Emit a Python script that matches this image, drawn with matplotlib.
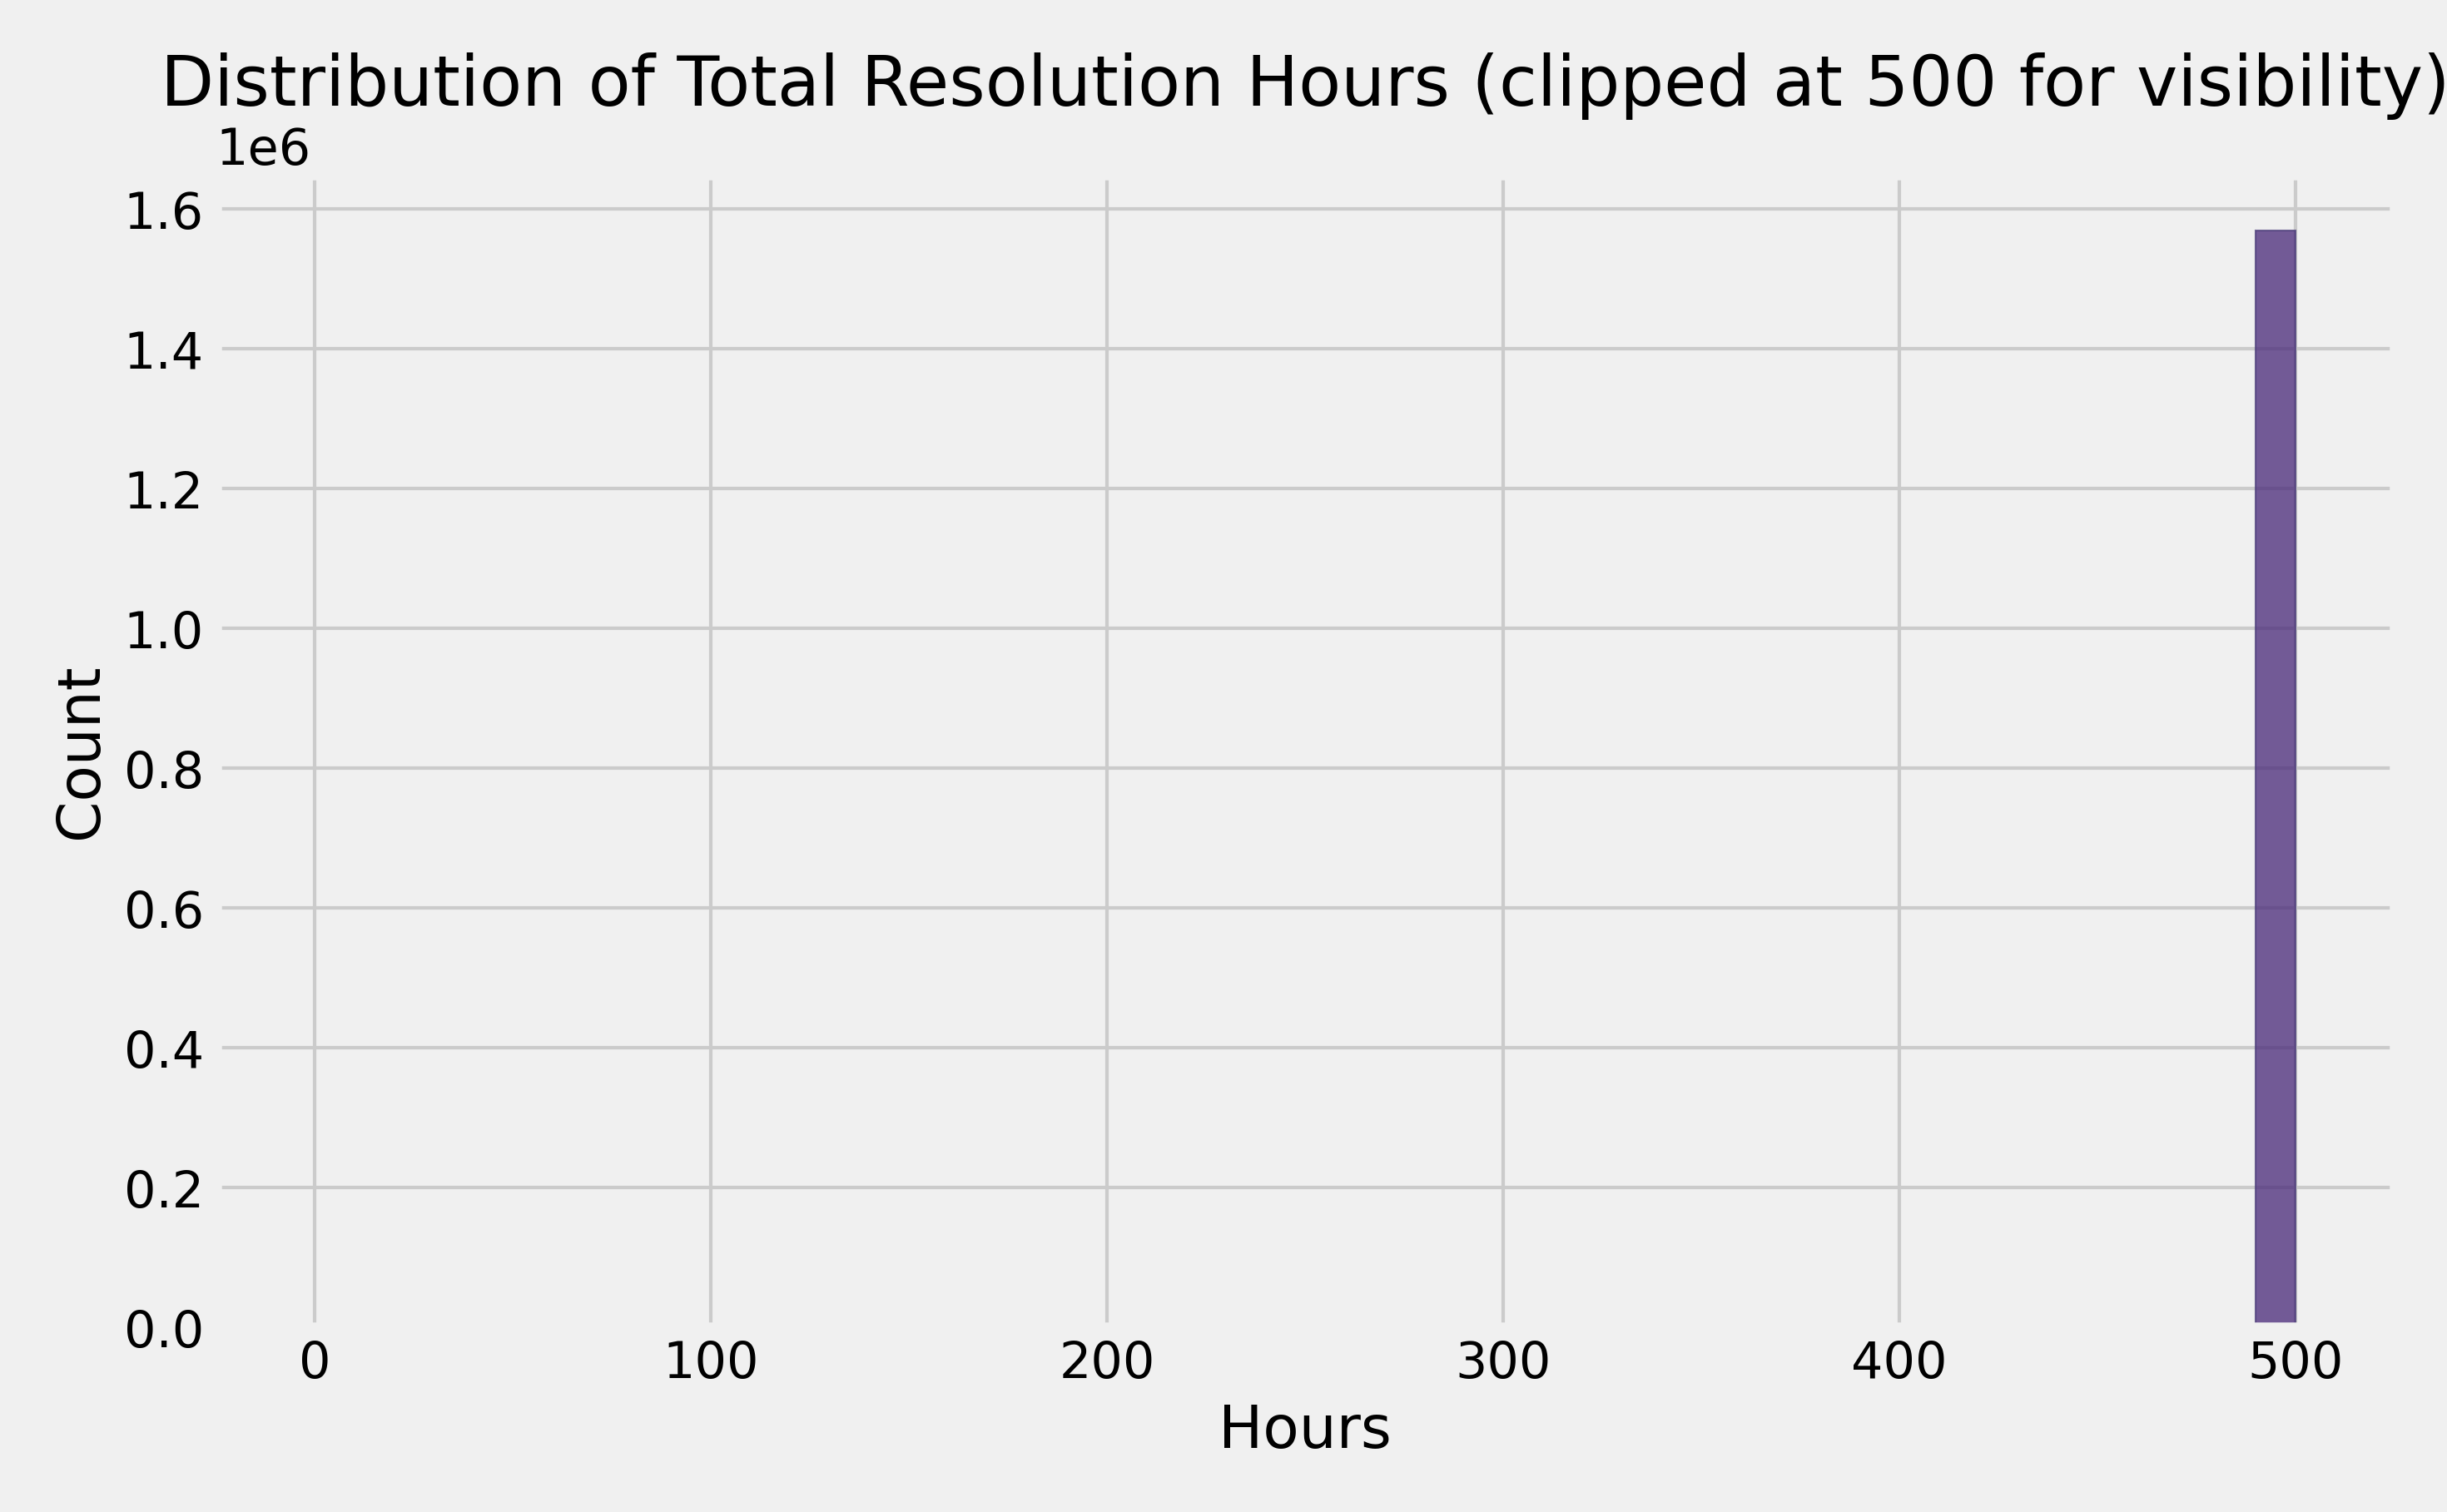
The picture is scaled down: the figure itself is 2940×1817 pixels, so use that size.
import matplotlib
matplotlib.use("Agg")
import matplotlib.pyplot as plt
import numpy as np

plt.style.use("fivethirtyeight")

# histogram bins (hours) and counts
bin_edges = np.linspace(0, 500, 51)
counts = [0] * 49 + [1.57e6]

fig, ax = plt.subplots(figsize=(9.8, 6.06), dpi=300)
fig.patch.set_facecolor("#f0f0f0")
ax.set_facecolor("#f0f0f0")

ax.bar(bin_edges[:-1], counts, width=np.diff(bin_edges), align="edge",
       color="#482878", alpha=0.75, edgecolor="#4a3c78", linewidth=0.5)

ax.set_xlim(-25, 525)
ax.set_ylim(0, 1.65e6)
ax.set_title("Distribution of Total Resolution Hours (clipped at 500 for visibility)",
             fontsize=20)
ax.set_xlabel("Hours", fontsize=17)
ax.set_ylabel("Count", fontsize=17)
ax.tick_params(labelsize=14.5)
ax.yaxis.get_offset_text().set_fontsize(14.5)
ax.grid(True, color="#cbcbcb", linewidth=1)
ax.set_axisbelow(True)

fig.tight_layout()
fig.savefig("out.png", facecolor=fig.get_facecolor())
